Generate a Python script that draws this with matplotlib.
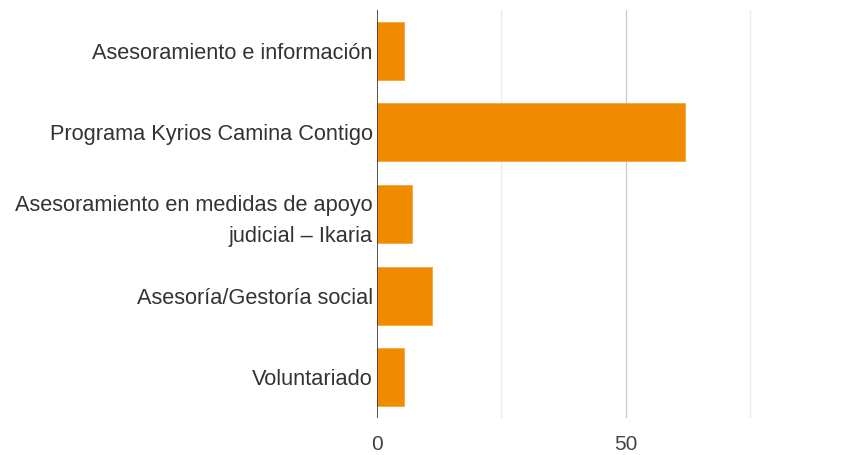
import numpy as np
import matplotlib.pyplot as plt

# datos
categorias = ['Asesoramiento e información',
              'Programa Kyrios Camina Contigo',
              'Asesoramiento en medidas de apoyo\njudicial – Ikaria',
              'Asesoría/Gestoría social',
              'Voluntariado']
valores = [5.5, 62, 7, 11, 5.5]
ticks_x = [0, 25, 50, 75]
etiquetas_x = ['0', '', '50', '']

plt.rcParams['font.family'] = ['Liberation Sans', 'DejaVu Sans']

fig = plt.figure(figsize=(8.66, 4.55), dpi=100)
# área del gráfico en píxeles: x 377..860, y 10..418
ax = fig.add_axes([377 / 866, 1 - 418 / 455, (860 - 377) / 866, 408 / 455])

y = np.arange(len(categorias))
ax.barh(y, valores, height=0.71, color='#f08b00', edgecolor='#f5a540', linewidth=0.6, zorder=3)

ax.set_ylim(len(categorias) - 0.5, -0.5)
ax.set_xlim(0, 483 / 4.97)

ax.set_xticks(ticks_x)
ax.set_xticklabels(etiquetas_x)
ax.tick_params(axis='x', length=0, pad=12, labelsize=15, labelcolor='#444444')

ax.set_yticks(y)
ax.set_yticklabels(categorias, fontsize=15.7, color='#333333', linespacing=1.58)
ax.tick_params(axis='y', length=0, pad=3)

# líneas de cuadrícula
for t in ticks_x[1:]:
    ax.axvline(t, color='#cccccc' if t == 50 else '#ebebeb', linewidth=1, zorder=1)
ax.axvline(0, color='#333333', linewidth=1.2, zorder=4)

for s in ax.spines.values():
    s.set_visible(False)

fig.savefig('out.png', dpi=100)
